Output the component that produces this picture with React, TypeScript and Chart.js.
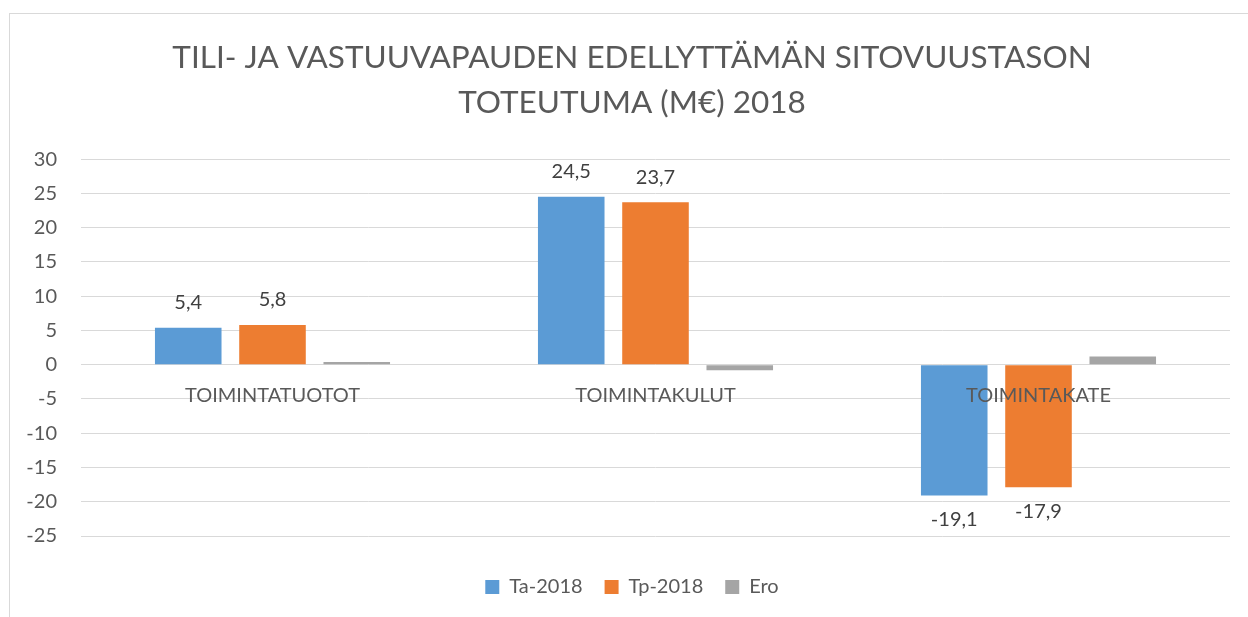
import React, { useEffect, useRef } from "react";
import { Chart, registerables } from "chart.js";

Chart.register(...registerables);

const categories = ["TOIMINTATUOTOT", "TOIMINTAKULUT", "TOIMINTAKATE"];
const seriesNames = ["Ta-2018", "Tp-2018", "Ero"];
const taValues = [5.4, 24.5, -19.1];
const tpValues = [5.8, 23.7, -17.9];
const eroValues = [0.4, -0.8, 1.2];
const titleLines = ["TILI- JA VASTUUVAPAUDEN EDELLYTTÄMÄN SITOVUUSTASON", "TOTEUTUMA (M€) 2018"];
const yMin = -25;
const yMax = 30;
const yStep = 5;

const FONT = "Lato";
const TEXT = "#595959";

const frame = {
  id: "frame",
  beforeDraw(chart: any) {
    const ctx = chart.ctx;
    ctx.save();
    ctx.fillStyle = "#ffffff";
    ctx.fillRect(0, 0, chart.width, chart.height);
    ctx.strokeStyle = "#D9D9D9";
    ctx.lineWidth = 1;
    ctx.strokeRect(9.5, 13.5, chart.width + 50, chart.height + 50);
    ctx.restore();
  },
};

const valueLabels = {
  id: "valueLabels",
  afterDatasetsDraw(chart: any) {
    const ctx = chart.ctx;
    ctx.save();
    ctx.font = `20px ${FONT}`;
    ctx.fillStyle = "#404040";
    ctx.textAlign = "center";
    ctx.textBaseline = "middle";
    [0, 1].forEach((di) => {
      const meta = chart.getDatasetMeta(di);
      const data = chart.data.datasets[di].data as number[];
      meta.data.forEach((el: any, i: number) => {
        const v = data[i];
        const txt = v.toFixed(1).replace(".", ",");
        const y = v >= 0 ? el.y - 25 : el.y + 24;
        ctx.fillText(txt, el.x, y);
      });
    });
    ctx.restore();
  },
};

export default function App() {
  const ref = useRef<HTMLCanvasElement>(null);
  useEffect(() => {
    if (!ref.current) return;
    const chart = new Chart(ref.current, {
      type: "bar",
      data: {
        labels: categories,
        datasets: [
          { label: seriesNames[0], data: taValues, backgroundColor: "#5B9BD5" },
          { label: seriesNames[1], data: tpValues, backgroundColor: "#ED7D31" },
          { label: seriesNames[2], data: eroValues, backgroundColor: "#A5A5A5" },
        ],
      },
      options: {
        responsive: false,
        animation: false,
        layout: { padding: { left: 9, right: -7, top: 0, bottom: 10 } },
        datasets: { bar: { categoryPercentage: 0.66, barPercentage: 0.79 } },
        scales: {
          x: {
            position: { y: 0 } as any,
            grid: { display: false, drawTicks: false },
            border: { display: false },
            ticks: { z: 1, font: { family: FONT, size: 20 }, color: TEXT, padding: 19 },
          },
          y: {
            min: yMin,
            max: yMax,
            ticks: { stepSize: yStep, font: { family: FONT, size: 20 }, color: TEXT, padding: 24 },
            grid: { color: "#D9D9D9", drawTicks: false },
            border: { display: false },
            afterFit(scale: any) {
              scale.width = 72;
            },
          },
          ySpacer: {
            type: "linear",
            position: "right",
            min: yMin,
            max: yMax,
            grid: { display: false, drawTicks: false },
            border: { display: false },
            ticks: { display: false },
            afterFit(scale: any) {
              scale.width = 25;
            },
          },
        },
        plugins: {
          title: {
            display: true,
            text: titleLines,
            color: TEXT,
            font: { family: FONT, size: 31.5, weight: "normal", lineHeight: 1.43 },
            padding: { top: 35.5, bottom: 33.5 },
          },
          legend: {
            position: "bottom",
            title: { display: true, text: "", font: { size: 10, lineHeight: 1 }, padding: { top: 9, bottom: 0 } },
            labels: {
              font: { family: FONT, size: 20 },
              color: TEXT,
              boxWidth: 14,
              boxHeight: 14,
              padding: 22,
            },
          },
          tooltip: { enabled: false },
        },
      },
      plugins: [frame, valueLabels],
    });
    return () => chart.destroy();
  }, []);
  return (
    <div style={{ position: "absolute", left: 0, top: 0, width: 1248, height: 617 }}>
      <canvas ref={ref} width={1248} height={617} style={{ display: "block" }} />
    </div>
  );
}
